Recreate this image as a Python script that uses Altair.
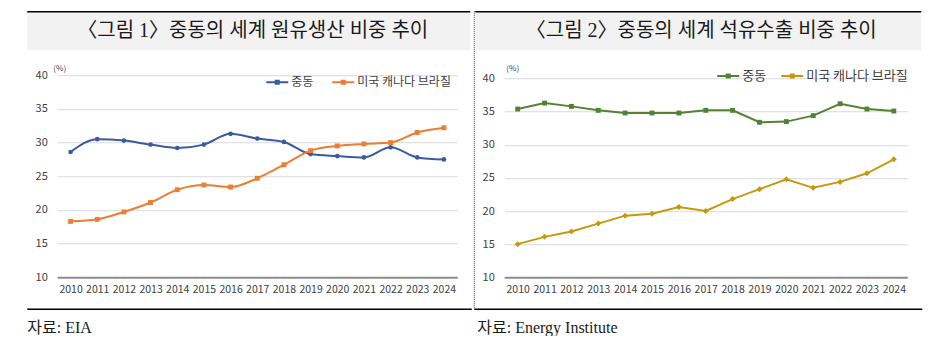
import altair as alt
import pandas as pd

years = [str(y) for y in range(2010, 2025)]
series_names = ["중동", "미국 캐나다 브라질"]

prod_me = [28.6, 30.5, 30.3, 29.7, 29.2, 29.7, 31.3, 30.6, 30.1, 28.3, 28.0, 27.8, 29.3, 27.8, 27.5]
prod_am = [18.3, 18.6, 19.7, 21.1, 23.0, 23.7, 23.4, 24.7, 26.7, 28.8, 29.5, 29.8, 30.0, 31.5, 32.2]
exp_me = [35.4, 36.3, 35.8, 35.2, 34.8, 34.8, 34.8, 35.2, 35.2, 33.4, 33.5, 34.4, 36.2, 35.4, 35.1]
exp_am = [15.0, 16.1, 16.9, 18.1, 19.3, 19.6, 20.6, 20.0, 21.8, 23.3, 24.8, 23.5, 24.4, 25.7, 27.8]

y_ticks = [10, 15, 20, 25, 30, 35, 40]

titles = ["〈그림 1〉중동의 세계 원유생산 비중 추이", "〈그림 2〉중동의 세계 석유수출 비중 추이"]
sources = ["자료: EIA", "자료: Energy Institute"]

SANS = "Noto Sans CJK KR"
SERIF = "Liberation Serif, Noto Sans CJK KR"
ONE = pd.DataFrame({"k": [0]})
OY = 75  # common plot top (page px)


def make_df(me, am):
    rows = []
    for name, vals in zip(series_names, [me, am]):
        for y, v in zip(years, vals):
            rows.append({"year": y, "series": name, "value": v})
    return pd.DataFrame(rows)


def panel(me, am, colors, shapes, sizes, title, source, ox, W, H, ymax, lay, dotted, interp, legend_font):
    oy = OY

    def rx(v):
        return v - ox

    def ry(v):
        return v - oy

    df = make_df(me, am)
    layers = []
    layers.append(
        alt.Chart(ONE).mark_rect(color="#f2f2f2").encode(
            x=alt.value(rx(lay["bg"][0])), x2=alt.value(rx(lay["bg"][1])),
            y=alt.value(ry(11)), y2=alt.value(ry(50)))
    )
    layers.append(
        alt.Chart(ONE).mark_rule(color="#000000", strokeWidth=1.5).encode(
            x=alt.value(rx(lay["top"][0])), x2=alt.value(rx(lay["top"][1])), y=alt.value(ry(11.5)))
    )
    layers.append(
        alt.Chart(ONE).mark_text(font=SERIF, fontSize=20, color="#1a1a1a", align="center",
                                 baseline="middle").encode(
            x=alt.value(rx(lay["title"][0])), y=alt.value(ry(lay["title"][1])), text=alt.value(title))
    )
    layers.append(
        alt.Chart(ONE).mark_rule(color="#000000", strokeWidth=1.5).encode(
            x=alt.value(rx(lay["bottom"][0])), x2=alt.value(rx(lay["bottom"][1])), y=alt.value(ry(309)))
    )
    layers.append(
        alt.Chart(ONE).mark_text(font=SERIF, fontSize=16, color="#1a1a1a", align="left",
                                 baseline="middle").encode(
            x=alt.value(rx(lay["source"][0])), y=alt.value(ry(lay["source"][1])), text=alt.value(source))
    )
    layers.append(
        alt.Chart(ONE).mark_text(font=SANS, fontSize=8, color="#404040", align="center",
                                 baseline="middle").encode(
            x=alt.value(rx(lay["pct"][0])), y=alt.value(ry(lay["pct"][1])), text=alt.value("(%)"))
    )
    if dotted:
        layers.append(
            alt.Chart(ONE).mark_rule(color="#333333", strokeWidth=1, strokeDash=[1, 1]).encode(
                x=alt.value(rx(473)), y=alt.value(ry(11)), y2=alt.value(ry(308)))
        )

    x_enc = alt.X("year:O", title=None, sort=years,
                  axis=alt.Axis(labelAngle=0, ticks=False, grid=False, labelOverlap=False,
                                domainColor="#8c8c8c", domainWidth=2, labelPadding=7,
                                labelFont=SANS, labelFontSize=10.5, labelColor="#404040"))
    y_enc = alt.Y("value:Q", title=None,
                  scale=alt.Scale(domain=[10, ymax], nice=False, zero=False),
                  axis=alt.Axis(values=y_ticks, domain=False, ticks=False, labelPadding=10,
                                gridColor="#d9d9d9", gridWidth=1,
                                labelFont=SANS, labelFontSize=11, labelColor="#404040"))
    color_scale = alt.Scale(domain=series_names, range=colors)

    line = alt.Chart(df).mark_line(strokeWidth=2, interpolate=interp).encode(
        x=x_enc, y=y_enc,
        color=alt.Color("series:N", scale=color_scale, sort=series_names,
                        legend=alt.Legend(title=None, orient="none",
                                          legendX=rx(lay["legend"][0]),
                                          legendY=ry(lay["legend"][1]) - 11,
                                          direction="horizontal",
                                          symbolType="M-1,0H1M-0.14,-0.14H0.14V0.14H-0.14Z",
                                          symbolSize=484, symbolStrokeWidth=2,
                                          labelFont=SANS, labelFontSize=legend_font,
                                          labelColor="#404040", labelOffset=2,
                                          columnPadding=lay["colpad"], padding=0)),
    )
    layers.append(line)
    for name, col, shp, sz in zip(series_names, colors, shapes, sizes):
        layers.append(
            alt.Chart(df).transform_filter(alt.datum.series == name)
            .mark_point(filled=True, size=sz, opacity=1, shape=shp, color=col)
            .encode(x=x_enc, y=y_enc)
        )
    return alt.layer(*layers).properties(width=W, height=H)


left = panel(prod_me, prod_am, ["#3a5ba0", "#ed7d31"], ["circle", "square"], [22, 24],
             titles[0], sources[0], 57, 400, 202, 40,
             {"bg": (27, 470), "top": (27, 470), "title": (252.5, 31), "bottom": (27, 471.5),
              "source": (27, 328), "pct": (59.5, 68.5), "legend": (265, 81), "colpad": 14},
             False, "monotone", 12)

right = panel(exp_me, exp_am, ["#548235", "#c49a0c"], ["square", "diamond"], [24, 36],
              titles[1], sources[1], 503, 403, 202, 40.5,
              {"bg": (474, 920), "top": (474, 920), "title": (700, 31), "bottom": (473, 921),
               "source": (476, 328), "pct": (511.5, 69), "legend": (715, 74.7), "colpad": 11},
              True, "linear", 13)

chart = alt.hconcat(left, right, spacing=0).properties(
    padding={"left": 26.25, "top": 10.25, "right": 0, "bottom": 0},
    background="white",
).configure_view(stroke=None).resolve_scale(color="independent")

chart.save("out.html", embed_options={"renderer": "svg", "actions": False})
